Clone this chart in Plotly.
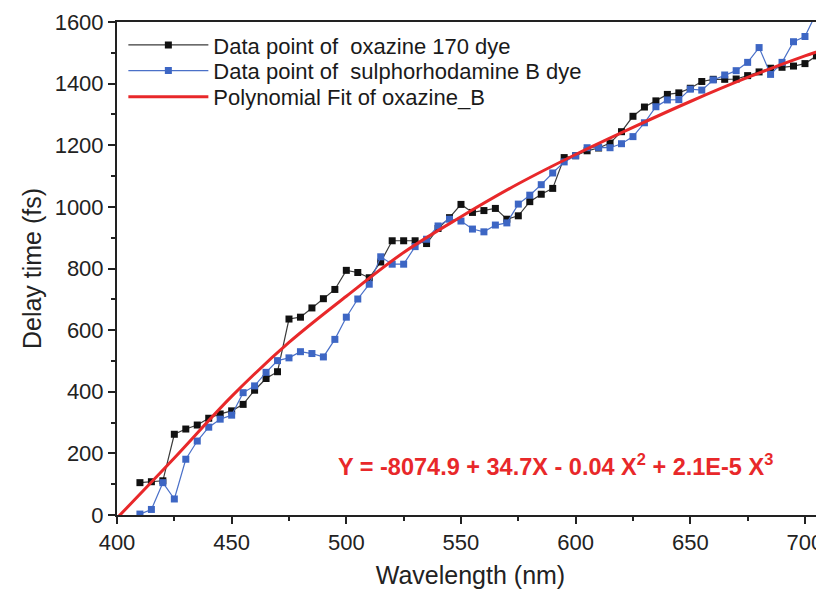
import plotly.graph_objects as go

wavelength = list(range(410, 715, 5))  # 410..710

oxazine = [105, 108, 111, 262, 279, 292, 314, 328, 338, 359, 405, 443, 465, 636,
           642, 672, 702, 732, 794, 787, 770, 821, 890, 890, 890, 881, 930, 965,
           1008, 982, 988, 995, 960, 971, 1017, 1041, 1060, 1160, 1166, 1182, 1191,
           1207, 1244, 1294, 1324, 1344, 1365, 1370, 1385, 1407, 1414, 1414, 1415,
           1426, 1438, 1450, 1453, 1457, 1465, 1490, 1488]

sulpho_wl = list(range(410, 710, 5))  # 410..705
sulpho = [3, 18, 105, 52, 181, 240, 285, 311, 324, 397, 419, 463, 501, 510, 530,
          524, 513, 570, 642, 701, 749, 838, 814, 814, 871, 895, 938, 960, 954,
          928, 919, 941, 948, 1009, 1038, 1072, 1110, 1146, 1166, 1192, 1193, 1192,
          1205, 1228, 1273, 1325, 1347, 1348, 1382, 1379, 1412, 1428, 1442, 1469,
          1517, 1430, 1469, 1536, 1553, 1630]

fit_wl = [400, 425, 450, 475, 500, 525, 550, 575, 600, 625, 650, 675, 700, 710]
fit_val = [-10, 185, 385, 560, 710, 852, 968, 1075, 1170, 1258, 1342, 1420, 1490, 1515]

x_ticks = [400, 450, 500, 550, 600, 650, 700]
y_ticks = [0, 200, 400, 600, 800, 1000, 1200, 1400, 1600]

FONT = "Liberation Sans, Arial, sans-serif"

fig = go.Figure()
fig.add_trace(go.Scatter(
    x=wavelength, y=oxazine, mode="lines+markers",
    name="Data point of  oxazine 170 dye", legend="legend",
    line=dict(color="#3a3a3a", width=1.2),
    marker=dict(symbol="square", size=7, color="#111111"),
))
fig.add_trace(go.Scatter(
    x=sulpho_wl, y=sulpho, mode="lines+markers",
    name="Data point of  sulphorhodamine B dye", legend="legend2",
    line=dict(color="#4a70c8", width=1.2),
    marker=dict(symbol="square", size=7, color="#3d66c4"),
))
fig.add_trace(go.Scatter(
    x=fit_wl, y=fit_val, mode="lines",
    name="Polynomial Fit of oxazine_B", legend="legend3",
    line=dict(color="#e8282a", width=3, shape="spline"),
))

fig.add_annotation(
    x=591, y=162, xref="x", yref="y", showarrow=False,
    text="<b>Y = -8074.9 + 34.7X - 0.04 X<sup>2</sup> + 2.1E-5 X<sup>3</sup></b>",
    font=dict(family=FONT, size=23.5, color="#e8282a"),
)

def leg(yc):
    return dict(x=0.009, y=yc, xanchor="left", yanchor="middle",
                bgcolor="rgba(0,0,0,0)", font=dict(size=22, color="#1a1a1a"),
                itemwidth=80)

# page body has an 8px margin: figure sized/offset so the plot area lands where the reference has it
fig.update_layout(
    width=816, height=584,
    margin=dict(l=109, r=0, t=14, b=77, autoexpand=False),
    paper_bgcolor="white", plot_bgcolor="white",
    font=dict(family=FONT, size=22, color="#222222"),
    showlegend=True,
    legend=leg(0.953), legend2=leg(0.901), legend3=leg(0.848),
    xaxis=dict(
        range=[400, 708.3], tickvals=x_ticks, showgrid=False, zeroline=False,
        showline=True, linecolor="#222222", linewidth=2, mirror=True,
        ticks="outside", ticklen=7, tickwidth=1.5, tickcolor="#222222",
        minor=dict(dtick=25, tick0=400, ticks="outside", ticklen=4,
                   tickwidth=1.5, tickcolor="#222222"),
        title=dict(text="Wavelength (nm)", font=dict(size=25), standoff=12),
        tickfont=dict(size=22), automargin=False,
    ),
    yaxis=dict(
        range=[0, 1600], tickvals=y_ticks, showgrid=False, zeroline=False,
        showline=True, linecolor="#222222", linewidth=2,
        ticks="outside", ticklen=7, tickwidth=1.5, tickcolor="#222222",
        minor=dict(dtick=100, tick0=0, ticks="outside", ticklen=4,
                   tickwidth=1.5, tickcolor="#222222"),
        title=dict(text="Delay time (fs)", font=dict(size=25), standoff=6),
        tickfont=dict(size=22), automargin=False,
    ),
)

fig.write_html("out.html")
